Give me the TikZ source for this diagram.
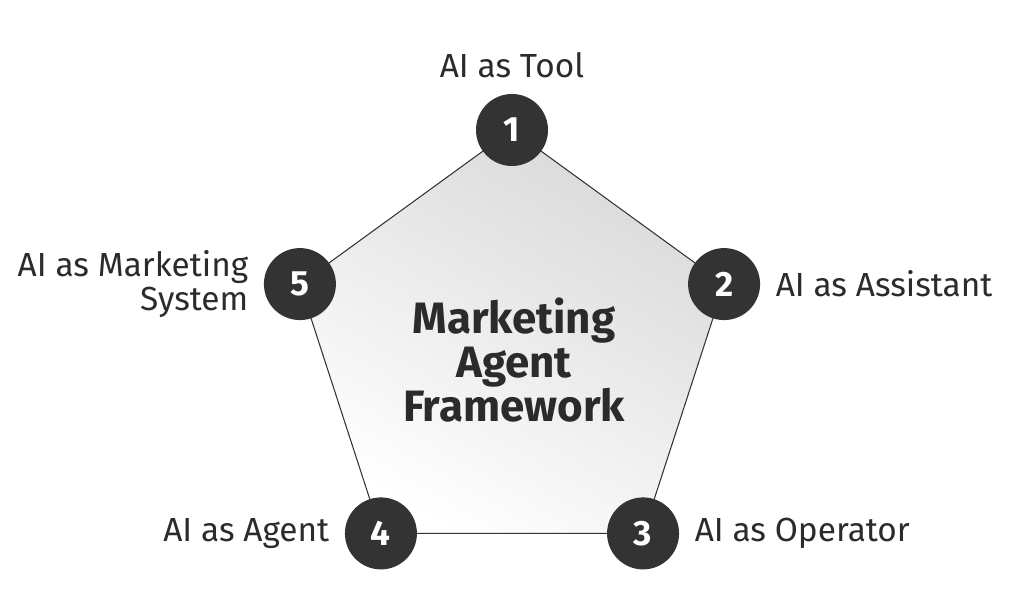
\documentclass[tikz,border=0pt]{standalone}
\usepackage{fontspec}
\setmainfont{Fira Sans}
\usetikzlibrary{positioning,calc}
\definecolor{dot}{HTML}{333333}
\definecolor{txt}{HTML}{2B2B2B}
\tikzset{
  vtx/.style={circle, fill=dot, minimum size=1.44cm, inner sep=0pt,
    text=white, font=\fontsize{20}{20}\selectfont\bfseries},
  lbl/.style={text=txt, font=\fontsize{19}{19}\selectfont, inner sep=0pt, align=right}
}
\begin{document}
\begin{tikzpicture}
\useasboundingbox (0,0) rectangle (20.48,-12.28);
\coordinate (m) at (10.24,-7.06);

% pentagon vertices
\foreach \i/\a in {1/90,2/18,3/-54,4/-126,5/162}
  \coordinate (p\i) at ($(m)+(\a:4.46)$);

\shade[top color=gray!30, bottom color=white, shading angle=-30, draw=dot, line width=0.6pt]
  (p1) -- (p2) -- (p3) -- (p4) -- (p5) -- cycle;

\foreach \i in {1,...,5}
  \node[vtx] (c\i) at (p\i) {\i};

\node[font=\fontsize{25}{25}\selectfont\bfseries, text=txt, align=center] (title) at (10.28,-7.2)
  {Marketing\\Agent\\Framework};

\node[lbl, above=0.3cm of c1] (l1) {AI as Tool};
\node[lbl, right=0.3cm of c2] (l2) {AI as Assistant};
\node[lbl, right=0.3cm of c3] (l3) {AI as Operator};
\node[lbl, left=0.3cm of c4] (l4) {AI as Agent};
\node[lbl, left=0.3cm of c5] (l5) {AI as Marketing\\System};
\end{tikzpicture}
\end{document}
